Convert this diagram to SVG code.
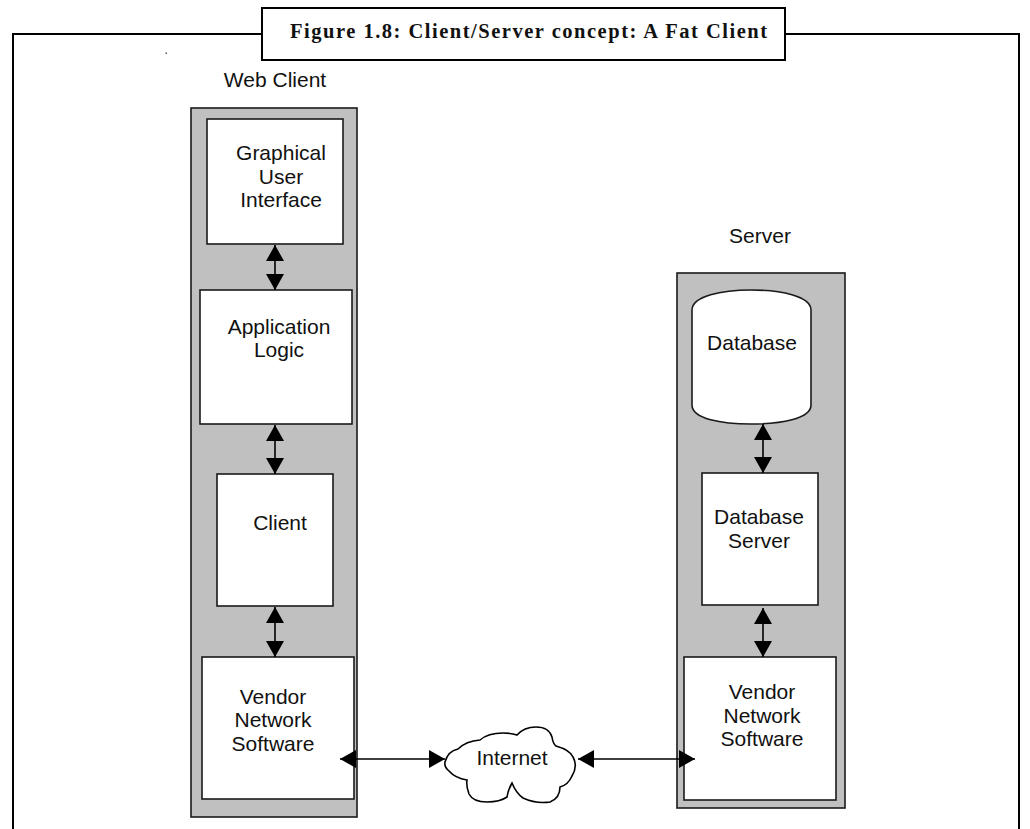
<svg xmlns="http://www.w3.org/2000/svg" width="1030" height="829" viewBox="0 0 1030 829">
  <style>
    .frame { fill: none; stroke: #000; stroke-width: 2; }
    .panel { fill: #c0c0c0; stroke: #1a1a1a; stroke-width: 1.6; }
    .box { fill: #fff; stroke: #1a1a1a; stroke-width: 1.6; }
    .label { font-family: "Liberation Sans", Arial, sans-serif; font-size: 21px; fill: #111; text-anchor: middle; }
    .title { font-family: "Liberation Serif", "Times New Roman", serif; font-size: 20.5px; font-weight: bold; fill: #111; }
    .link { fill: none; stroke: #000; stroke-width: 1.6; marker-start: url(#head); marker-end: url(#head); }
  </style>
  <defs>
    <marker id="head" viewBox="0 0 16 18" refX="16" refY="9" markerWidth="16" markerHeight="18" markerUnits="userSpaceOnUse" orient="auto-start-reverse">
      <path d="M0,0 L16,9 L0,18 Z" fill="#000"/>
    </marker>
  </defs>

  <rect width="1030" height="829" fill="#fff"/>

  <!-- figure frame with caption tab -->
  <g id="frame">
    <path class="frame" d="M262,34 H13 V829 M785,34 H1019 V829"/>
    <rect class="frame" x="262" y="8" width="523" height="52" fill="#fff"/>
    <text class="title" x="290" y="38" textLength="477" lengthAdjust="spacing">Figure 1.8: Client/Server concept: A Fat Client</text>
    <rect x="165.5" y="52.5" width="1.5" height="1.5" fill="#555"/>
  </g>

  <!-- client side -->
  <g id="web-client">
    <text class="label" x="275" y="87">Web Client</text>
    <rect class="panel" x="191" y="108" width="166" height="709"/>
  </g>
  <g id="gui">
    <rect class="box" x="207" y="119" width="136" height="125"/>
    <text class="label" x="281" y="160">Graphical</text>
    <text class="label" x="281" y="184">User</text>
    <text class="label" x="281" y="207">Interface</text>
  </g>
  <g id="app-logic">
    <rect class="box" x="200" y="290" width="152" height="134"/>
    <text class="label" x="279" y="334">Application</text>
    <text class="label" x="279" y="357">Logic</text>
  </g>
  <g id="client">
    <rect class="box" x="217" y="474" width="116" height="132"/>
    <text class="label" x="280" y="530">Client</text>
  </g>
  <g id="vendor-client">
    <rect class="box" x="202" y="657" width="152" height="142"/>
    <text class="label" x="273" y="704">Vendor</text>
    <text class="label" x="273" y="727">Network</text>
    <text class="label" x="273" y="751">Software</text>
  </g>

  <!-- server side -->
  <g id="server">
    <text class="label" x="760" y="243">Server</text>
    <rect class="panel" x="677" y="273" width="168" height="535"/>
  </g>
  <g id="database">
    <path class="box" d="M692,310 C692,296 722,290 751,290 C780,290 811,296 811,310 V405 C811,419 780,424 751,424 C722,424 692,419 692,405 Z"/>
    <text class="label" x="752" y="350">Database</text>
  </g>
  <g id="db-server">
    <rect class="box" x="702" y="473" width="116" height="132"/>
    <text class="label" x="759" y="524">Database</text>
    <text class="label" x="759" y="548">Server</text>
  </g>
  <g id="vendor-server">
    <rect class="box" x="684" y="657" width="152" height="143"/>
    <text class="label" x="762" y="699">Vendor</text>
    <text class="label" x="762" y="723">Network</text>
    <text class="label" x="762" y="746">Software</text>
  </g>

  <!-- network cloud -->
  <g id="internet">
    <path fill="#fff" stroke="#000" stroke-width="1.6" d="M445,762 Q448,751 458,749 Q466,741 480,740 Q488,733 503,733 Q512,733 517,735 Q524,727 536,727 Q549,727 552,737 Q553,744 556,746 Q570,750 573,757 Q578,766 572,776 Q568,785 560,787 Q560,798 550,802 Q536,804 523,798 Q516,793 512,783 Q508,790 507,797 Q500,802 487,802 Q473,802 469,794 Q466,786 467,780 Q455,778 449,771 Q444,767 445,762 Z"/>
    <text class="label" x="512" y="765">Internet</text>
  </g>

  <!-- connectors -->
  <g id="connectors">
    <line class="link" x1="275" y1="245" x2="275" y2="290"/>
    <line class="link" x1="275" y1="425" x2="275" y2="474"/>
    <line class="link" x1="275" y1="607" x2="275" y2="657"/>
    <line class="link" x1="763" y1="424" x2="763" y2="473"/>
    <line class="link" x1="763" y1="608" x2="763" y2="657"/>
    <line class="link" x1="340" y1="759" x2="445" y2="759"/>
    <line class="link" x1="578" y1="759" x2="695" y2="759"/>
  </g>
</svg>
